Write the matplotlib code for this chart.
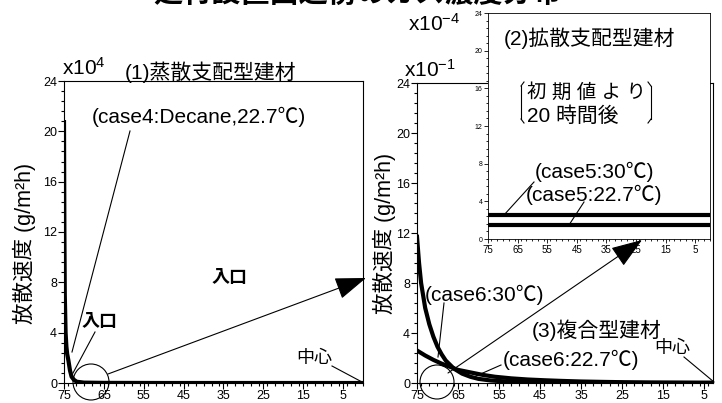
import matplotlib
matplotlib.use("Agg")
import matplotlib.pyplot as plt
from matplotlib.patches import Ellipse, FancyArrowPatch
from matplotlib.lines import Line2D
from matplotlib.ticker import MultipleLocator, AutoMinorLocator

plt.rcParams['font.family'] = ['Liberation Sans', 'Noto Sans CJK JP', 'DejaVu Sans']
plt.rcParams['mathtext.fontset'] = 'custom'
plt.rcParams['mathtext.rm'] = 'Liberation Sans'
plt.rcParams['mathtext.it'] = 'Liberation Sans'

# (1) evaporation-controlled, case4 decane 22.7C  (x1e4)
x_case4 = [75, 74.9, 74.8, 74.6, 74.4, 74.2, 73.9, 73.5, 73.1, 72.5, 71.8, 70, 65, 50, 30, 10, 0]
y_case4 = [20.9, 12.0, 7.0, 4.0, 2.9, 2.3, 1.8, 1.0, 0.5, 0.25, 0.1, 0.03, 0.01, 0, 0, 0, 0]

# (3) composite, case6  (x1e-1)
x_case6_30 = [75, 74.5, 74.0, 73.0, 72.0, 71.0, 70.0, 69.0, 68.0, 66.0, 64.0, 62.0, 60.0, 57.0,
              53, 48, 40, 30, 20, 10, 2.8]
y_case6_30 = [11.7, 9.6, 8.0, 6.0, 4.7, 3.7, 2.9, 2.3, 1.8, 1.15, 0.75, 0.5, 0.33, 0.2,
              0.12, 0.07, 0.04, 0.02, 0.01, 0.01, 0.01]
x_case6_227 = [75, 73, 71, 69, 67, 65, 62, 59, 56, 52, 48, 44, 40, 35, 30, 24, 18, 12, 6, 2.8]
y_case6_227 = [2.6, 2.2, 1.85, 1.55, 1.3, 1.05, 0.85, 0.65, 0.5, 0.37, 0.28, 0.22, 0.17, 0.12,
               0.09, 0.06, 0.04, 0.03, 0.02, 0.02]

# (2) diffusion-controlled, case5 after 20 h  (x1e-4)
x_case5 = [75, 0]
y_case5_30 = [2.5, 2.5]
y_case5_227 = [1.5, 1.5]

y_ticks = [0, 4, 8, 12, 16, 20, 24]
x_ticks = [75, 65, 55, 45, 35, 25, 15, 5]

W, H = 722, 403
fig = plt.figure(figsize=(W / 100, H / 100), dpi=100)


def box(x0, y0, x1, y1):
    return [x0 / W, 1 - y1 / H, (x1 - x0) / W, (y1 - y0) / H]


def fp(x, y):
    return (x / W, 1 - y / H)


tickfont = ['Liberation Sans Narrow', 'Liberation Sans', 'DejaVu Sans']


def style(ax, fs_y, fs_x, lw=0.8):
    ax.set_ylim(0, 24)
    ax.set_yticks(y_ticks)
    ax.set_xticks(x_ticks)
    ax.yaxis.set_minor_locator(AutoMinorLocator(5))
    ax.xaxis.set_minor_locator(MultipleLocator(2))
    ax.tick_params(which='major', direction='out', length=4, width=lw, pad=1)
    ax.tick_params(which='minor', direction='out', length=2, width=lw)
    for s in ax.spines.values():
        s.set_linewidth(lw)
    for lab in ax.get_yticklabels():
        lab.set_family(tickfont)
        lab.set_fontsize(fs_y)
    for lab in ax.get_xticklabels():
        lab.set_family(tickfont)
        lab.set_fontsize(fs_x)


# left panel
ax1 = fig.add_axes(box(64, 81, 363, 383))
ax1.plot(x_case4, y_case4, color='black', lw=3.0, solid_capstyle='butt')
ax1.set_xlim(75, 0)
style(ax1, 9, 9)

# middle panel
ax2 = fig.add_axes(box(417, 83, 713, 383))
ax2.plot(x_case6_30, y_case6_30, color='black', lw=3.0)
ax2.plot(x_case6_227, y_case6_227, color='black', lw=3.0)
ax2.set_xlim(75, 2.8)
style(ax2, 9, 9)

# inset panel
ax3 = fig.add_axes(box(488, 13, 710, 239), zorder=3)
ax3.plot(x_case5, y_case5_30, color='black', lw=3.0)
ax3.plot(x_case5, y_case5_227, color='black', lw=3.0)
ax3.set_xlim(75, 0)
style(ax3, 5, 7, lw=0.6)
ax3.tick_params(which='major', length=3)
ax3.tick_params(which='minor', length=1.5)

# title (cut off at the top edge)
fig.text(*fp(357, -7), '建材設置面近傍のガス濃度分布', ha='center', va='center',
         fontsize=21, fontweight='bold', family=['Noto Sans CJK JP'])

ylab = '放散速度 (g/m²h)'
fig.text(*fp(24, 243), ylab, rotation=90, ha='center', va='center', fontsize=15.5)
fig.text(*fp(384, 233), ylab, rotation=90, ha='center', va='center', fontsize=15.5)

fig.text(*fp(62, 68), r'x10$^{4}$', ha='left', va='center', fontsize=15)
fig.text(*fp(404, 70), r'x10$^{-1}$', ha='left', va='center', fontsize=15)
fig.text(*fp(408, 24), r'x10$^{-4}$', ha='left', va='center', fontsize=15)

fig.text(*fp(125, 72), '(1)蒸散支配型建材', ha='left', va='center', fontsize=15)
fig.text(*fp(92, 117), '(case4:Decane,22.7℃)', ha='left', va='center', fontsize=15)
fig.text(*fp(82, 323), '入口', ha='left', va='center', fontsize=13, fontweight='bold')
fig.text(*fp(212, 278), '入口', ha='left', va='center', fontsize=13, fontweight='bold')
fig.text(*fp(296, 358), '中心', ha='left', va='center', fontsize=13)

fig.text(*fp(504, 38), '(2)拡散支配型建材', ha='left', va='center', fontsize=15, zorder=5)
fig.text(*fp(527, 93), '初 期 値 よ り', ha='left', va='center', fontsize=14, zorder=5)
fig.text(*fp(527, 116), '20 時間後', ha='left', va='center', fontsize=15, zorder=5)
fig.text(*fp(535, 172), '(case5:30℃)', ha='left', va='center', fontsize=15, zorder=5)
fig.text(*fp(526, 195), '(case5:22.7℃)', ha='left', va='center', fontsize=15, zorder=5)

fig.text(*fp(425, 295), '(case6:30℃)', ha='left', va='center', fontsize=15)
fig.text(*fp(532, 330), '(3)複合型建材', ha='left', va='center', fontsize=15)
fig.text(*fp(503, 360), '(case6:22.7℃)', ha='left', va='center', fontsize=15)
fig.text(*fp(654, 348), '中心', ha='left', va='center', fontsize=13)


def seg(p, q, lw=0.8):
    (x0, y0), (x1, y1) = fp(*p), fp(*q)
    fig.add_artist(Line2D([x0, x1], [y0, y1], transform=fig.transFigure,
                          color='black', lw=lw, zorder=10))


# brackets around 初期値より 20時間後
seg((524, 82), (521, 86))
seg((521, 86), (521, 119))
seg((521, 119), (524, 123))
seg((648, 82), (651, 86))
seg((651, 86), (651, 119))
seg((651, 119), (648, 123))

# leader lines
seg((130, 131), (72, 352))
seg((95, 332), (73, 373))
seg((332, 366), (362, 382))
seg((534, 182), (504, 215))
seg((584, 202), (569, 225))
seg((444, 303), (438, 357))
seg((501, 365), (476, 376))
seg((684, 357), (714, 382))


def circle(cx, cy, r):
    fig.add_artist(Ellipse(fp(cx, cy), 2 * r / W, 2 * r / H, transform=fig.transFigure,
                           fill=False, edgecolor='black', lw=0.8, zorder=10))


circle(91, 382, 18)
circle(437, 382, 17)


def arrow(p, q):
    fig.add_artist(FancyArrowPatch(fp(*p), fp(*q), transform=fig.transFigure,
                                   arrowstyle='-|>,head_length=1.4,head_width=0.5',
                                   mutation_scale=14, color='black', lw=0.8,
                                   shrinkA=0, shrinkB=0, zorder=10))


arrow((108, 374), (366, 278))
arrow((448, 373), (642, 240))

fig.savefig('out.png', dpi=100)
